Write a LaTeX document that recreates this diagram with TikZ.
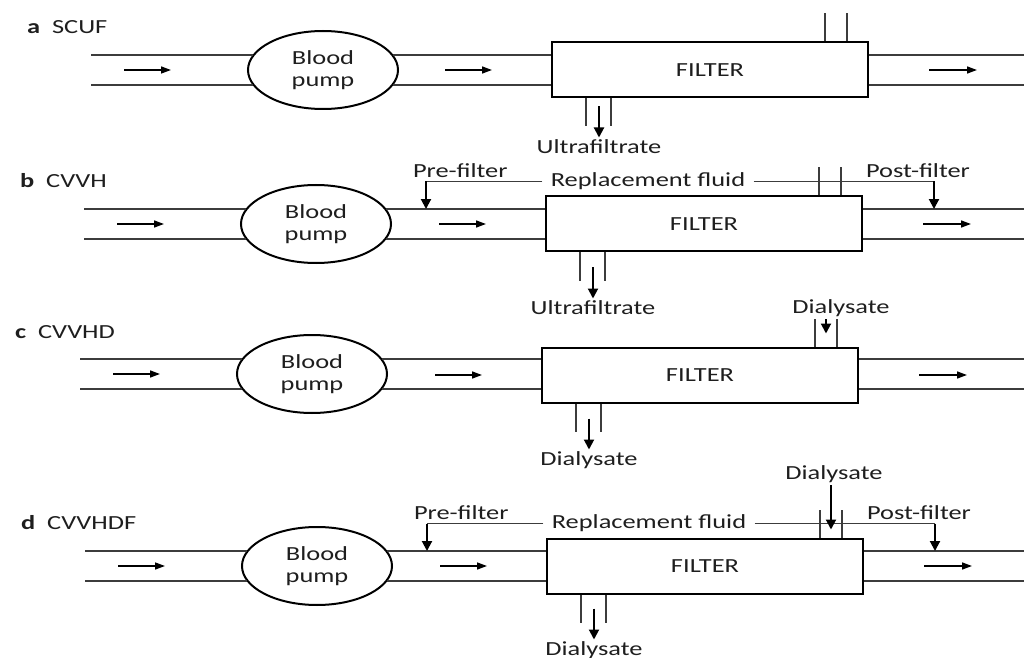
\documentclass[tikz,border=0pt]{standalone}
\usepackage{fontspec}
\setmainfont[FakeStretch=1.32]{Carlito}
\usepackage{tikz}
\usetikzlibrary{shapes.geometric, arrows.meta, positioning, calc}
\definecolor{tubegray}{RGB}{60, 60, 60}
\definecolor{textgray}{RGB}{30, 30, 30}

\begin{document}
\begin{tikzpicture}[
    x=0.5pt, y=-0.5pt,
    every node/.style={font=\fontsize{10pt}{11pt}\selectfont, text=textgray},
    pump/.style={draw, ellipse, line width=1pt, minimum width=75pt, minimum height=39pt, inner sep=0pt, align=center},
    filterbox/.style={draw, line width=1pt, minimum width=158pt, minimum height=27.5pt},
    tube/.style={line width=0.65pt, tubegray},
    flow/.style={-{Triangle[length=5pt, width=3.5pt]}, line width=0.75pt},
    drop/.style={-{Triangle[length=5pt, width=5pt]}, line width=1pt}
]
    \useasboundingbox (0,0) rectangle (1024,658);

    % Four circuits: label, blood pump, filter and tubing
    \foreach \p/\tag/\lx/\ly/\px/\py/\tx/\fx/\fy/\dy/\outtxt in {
        a/SCUF/20/27/323/70/91/710/70/39/Ultrafiltrate,
        b/CVVH/13/181/316/224/84/704/224/46/Ultrafiltrate,
        c/CVVHD/8/332/312/374/80/700/375/46/Dialysate,
        d/CVVHDF/14/523/317/566/85/705/566/45/Dialysate} {
        \node[anchor=west] (lbl\p) at (\lx,\ly) {\textbf{\p}\hspace{6pt}\tag};
        \node[pump] (pump\p) at (\px,\py) {Blood\\pump};
        \node[filterbox] (filter\p) at (\fx,\fy) {FILTER};
        \coordinate (in\p) at (\tx,\py);
        \coordinate (out\p) at (1024,\fy);

        % tubing
        \draw[tube] (pump\p.168 -| in\p) -- (pump\p.168);
        \draw[tube] (pump\p.192 -| in\p) -- (pump\p.192);
        \draw[tube] (pump\p.12) -- (pump\p.12 -| filter\p.west);
        \draw[tube] (pump\p.-12) -- (pump\p.-12 -| filter\p.west);
        \draw[tube] (pump\p.12 -| filter\p.east) -- (pump\p.12 -| out\p);
        \draw[tube] (pump\p.-12 -| filter\p.east) -- (pump\p.-12 -| out\p);

        % flow arrows
        \draw[flow] ($(pump\p.west)+(-123,0)$) -- ++(47,0);
        \draw[flow] ($(filter\p.west)+(-106,0)$) -- ++(47,0);
        \draw[flow] ($(filter\p.east)+(60,0)$) -- ++(48,0);

        % ports
        \draw[tube] ($(filter\p.north east)+(-44,0)$) -- ++(0,-28);
        \draw[tube] ($(filter\p.north east)+(-22,0)$) -- ++(0,-28);
        \draw[tube] ($(filter\p.south west)+(35,0)$) -- ++(0,28);
        \draw[tube] ($(filter\p.south west)+(60,0)$) -- ++(0,28);
        \node[anchor=north, inner sep=1pt] (drain\p) at ($(filter\p.south west)+(48,\dy)$) {\outtxt};
        \draw[drop] ($(filter\p.south west)+(48,\dy-31)$) -- (drain\p.north);
    }

    % Replacement fluid, pre- and post-filter
    \foreach \p in {b, d} {
        \node[inner xsep=4pt, inner ysep=1pt] (fluid\p) at ($(filter\p.north west)+(103,-14)$) {Replacement fluid};
        \coordinate (pre\p) at ($(pump\p.center |- fluid\p)+(110,0)$);
        \coordinate (post\p) at ($(filter\p.east |- fluid\p)+(71,0)$);
        \draw[tube] (fluid\p.west) -- (pre\p);
        \draw[tube] (fluid\p.east) -- (post\p);
        \draw[drop] (pre\p) -- (pre\p |- pump\p.168);
        \draw[drop] (post\p) -- (post\p |- pump\p.12);
        \node[anchor=base west] (prelbl\p) at ($(pre\p)+(-20,-4)$) {Pre-filter};
        \node[anchor=base west] (postlbl\p) at ($(post\p)+(-75,-4)$) {Post-filter};
    }

    % Dialysate in
    \node[inner sep=1pt] (dinc) at ($(filterc.north east)+(-18,-38)$) {Dialysate};
    \coordinate (portc) at ($(filterc.north east)+(-33,-13)$);
    \draw[drop] (portc |- dinc.south) -- (portc);
    \node[inner sep=1pt] (dind) at ($(filterd.north east)+(-30,-63)$) {Dialysate};
    \coordinate (portd) at ($(filterd.north east)+(-33,-8)$);
    \draw[drop] (portd |- dind.south) -- (portd);

\end{tikzpicture}
\end{document}
